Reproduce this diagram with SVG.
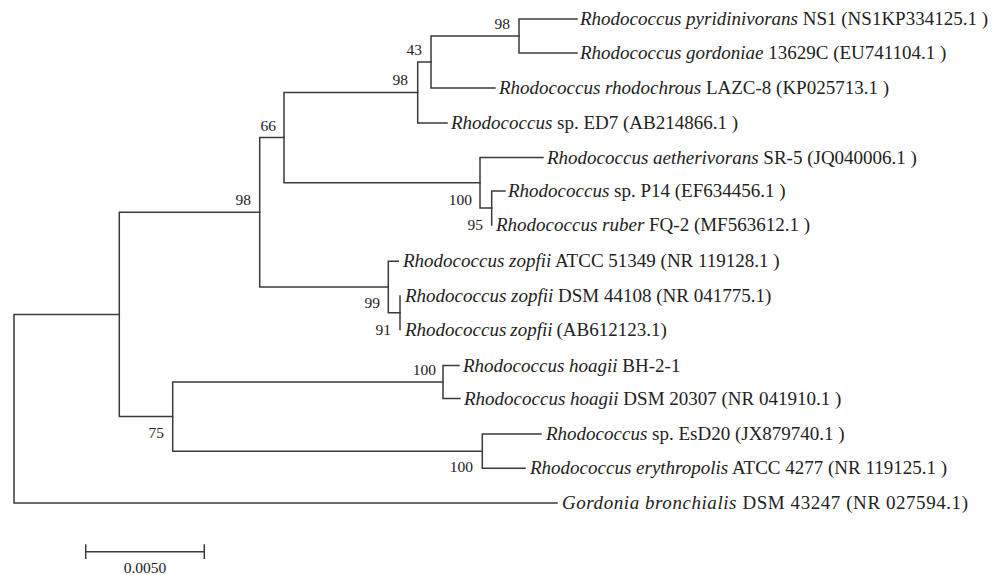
<svg xmlns="http://www.w3.org/2000/svg" width="1003" height="575" viewBox="0 0 1003 575">
<style>
.br{fill:none;stroke:#3a3a3a;stroke-width:1.5;stroke-linecap:square}
.lf{font-family:"Liberation Serif","Times New Roman",serif;font-size:19px;fill:#222}
.lf .i{font-style:italic}
.bs{font-family:"Liberation Serif","Times New Roman",serif;font-size:15.5px;fill:#222;text-anchor:end}
.sc{font-family:"Liberation Serif","Times New Roman",serif;font-size:15.5px;fill:#222;text-anchor:middle}
</style>
<rect width="1003" height="575" fill="#fff"/>
<g id="connectors">
<path class="br" d="M119.3,314.5 H14 V503 H557"/>
<path class="br" d="M259.7,212.3 H119.3 V416.6 H172.7"/>
<path class="br" d="M284,137.6 H259.7 V287 H388.3"/>
<path class="br" d="M417.7,92.5 H284 V182.7 H480"/>
<path class="br" d="M431,62 H417.7 V123 H447"/>
<path class="br" d="M519,36 H431 V88 H495"/>
<path class="br" d="M577,19 H519 V53 H577"/>
<path class="br" d="M543,157.5 H480 V208 H491.7"/>
<path class="br" d="M505,191 H491.7 V225"/>
<path class="br" d="M398.3,261.3 H388.3 V312.7 H400"/>
<path class="br" d="M400,296 V329.5"/>
<path class="br" d="M443,382 H172.7 V451.2 H482.3"/>
<path class="br" d="M459,365.5 H443 V398.5 H460"/>
<path class="br" d="M541,434 H482.3 V468.3 H525"/>
</g>
<g id="bootstrap">
<text class="bs" x="510" y="29">98</text>
<text class="bs" x="422" y="54.5">43</text>
<text class="bs" x="408" y="85">98</text>
<text class="bs" x="276" y="131">66</text>
<text class="bs" x="251" y="205">98</text>
<text class="bs" x="472" y="205">100</text>
<text class="bs" x="483" y="230">95</text>
<text class="bs" x="380" y="308">99</text>
<text class="bs" x="391" y="335">91</text>
<text class="bs" x="436" y="375">100</text>
<text class="bs" x="164" y="438">75</text>
<text class="bs" x="473" y="472">100</text>
</g>
<g id="leaf1"><text class="lf" x="580" y="25" textLength="408" lengthAdjust="spacing"><tspan class="i">Rhodococcus pyridinivorans</tspan> NS1 (NS1KP334125.1 )</text></g>
<g id="leaf2"><text class="lf" x="580" y="59"><tspan class="i">Rhodococcus gordoniae</tspan> 13629C (EU741104.1 )</text></g>
<g id="leaf3"><text class="lf" x="499" y="94"><tspan class="i">Rhodococcus rhodochrous</tspan> LAZC-8 (KP025713.1 )</text></g>
<g id="leaf4"><text class="lf" x="451" y="129"><tspan class="i">Rhodococcus</tspan> sp. ED7 (AB214866.1 )</text></g>
<g id="leaf5"><text class="lf" x="547" y="163.5"><tspan class="i">Rhodococcus aetherivorans</tspan> SR-5 (JQ040006.1 )</text></g>
<g id="leaf6"><text class="lf" x="508" y="197"><tspan class="i">Rhodococcus</tspan> sp. P14 (EF634456.1 )</text></g>
<g id="leaf7"><text class="lf" x="496" y="231"><tspan class="i">Rhodococcus ruber</tspan> FQ-2 (MF563612.1 )</text></g>
<g id="leaf8"><text class="lf" x="403" y="267.3"><tspan class="i">Rhodococcus zopfii</tspan> ATCC 51349 (NR 119128.1 )</text></g>
<g id="leaf9"><text class="lf" x="405" y="302"><tspan class="i">Rhodococcus zopfii</tspan> DSM 44108 (NR 041775.1)</text></g>
<g id="leaf10"><text class="lf" x="405" y="335.5"><tspan class="i">Rhodococcus</tspan><tspan class="i" dx="4">zopfii</tspan><tspan dx="4">(AB612123.1)</tspan></text></g>
<g id="leaf11"><text class="lf" x="463" y="371.5"><tspan class="i">Rhodococcus hoagii</tspan> BH-2-1</text></g>
<g id="leaf12"><text class="lf" x="464" y="404.5"><tspan class="i">Rhodococcus hoagii</tspan> DSM 20307 (NR 041910.1 )</text></g>
<g id="leaf13"><text class="lf" x="546" y="440"><tspan class="i">Rhodococcus</tspan> sp. EsD20 (JX879740.1 )</text></g>
<g id="leaf14"><text class="lf" x="530" y="474.3"><tspan class="i">Rhodococcus erythropolis</tspan> ATCC 4277 (NR 119125.1 )</text></g>
<g id="leaf15"><text class="lf" x="562" y="509" textLength="406" lengthAdjust="spacing"><tspan class="i">Gordonia bronchialis</tspan> DSM 43247 (NR 027594.1)</text></g>
<g id="scalebar">
<path class="br" d="M85.7,551.7 H204.3 M85.7,545 V558.3 M204.3,545 V558.3"/>
<text class="sc" x="145" y="573">0.0050</text>
</g>
</svg>
